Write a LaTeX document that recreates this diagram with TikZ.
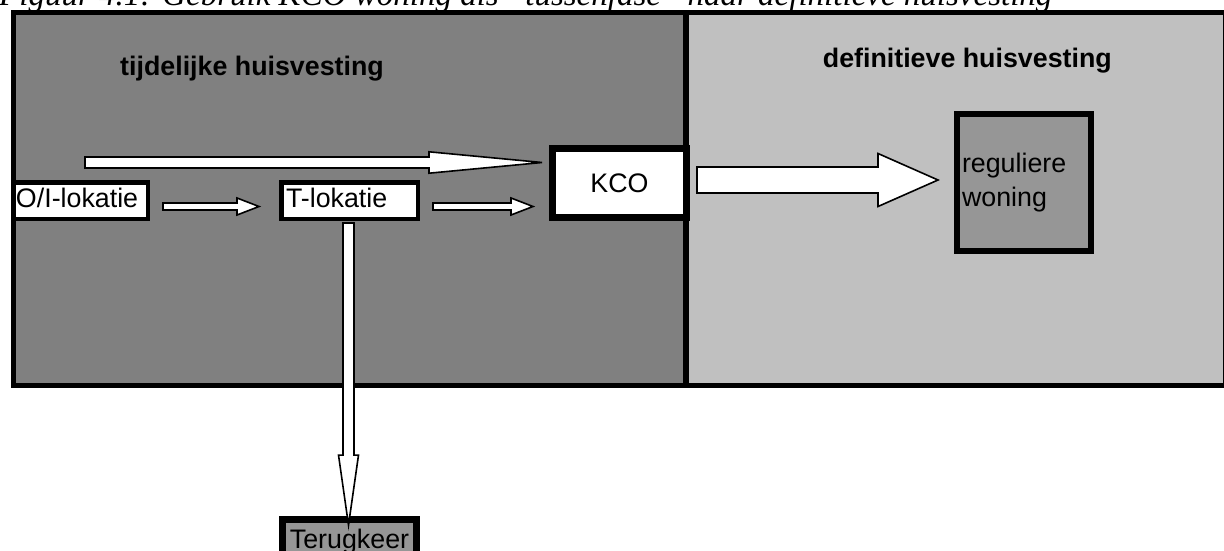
\documentclass[tikz,border=0pt]{standalone}
\usepackage{fontspec}
\setmainfont{Liberation Sans}
\newfontfamily\capfont{Liberation Serif}
\usetikzlibrary{calc}
\definecolor{darkgrey}{gray}{0.502}
\definecolor{lightgrey}{gray}{0.753}
\definecolor{boxgrey}{gray}{0.59}

\begin{document}
\begin{tikzpicture}[
    x=1pt, y=-1pt,
    lbl/.style={font=\fontsize{26.8}{33.5}\selectfont},
    ttl/.style={font=\bfseries\fontsize{26.8}{33.5}\selectfont, inner sep=0pt},
    region/.style={draw, line width=5.5pt},
    box/.style={draw, line width=4.5pt, fill=white, inner sep=0pt, lbl},
    fatarrow/.style n args={3}{draw, fill=white, line width=1.6pt,
        to path={let \p1=(\tikztostart), \p2=(\tikztotarget) in
            (\x1,\y1+#1) -- (\x2-#3,\y1+#1) -- (\x2-#3,\y1+#2) -- (\x2,\y1)
            -- (\x2-#3,\y1-#2) -- (\x2-#3,\y1-#1) -- (\x1,\y1-#1) -- cycle}},
    downarrow/.style n args={3}{draw, fill=white, line width=1.6pt,
        to path={let \p1=(\tikztostart), \p2=(\tikztotarget) in
            (\x1-#1,\y1) -- (\x1-#1,\y2+#3) -- (\x1-#2,\y2+#3) -- (\x1,\y2)
            -- (\x1+#2,\y2+#3) -- (\x1+#1,\y2+#3) -- (\x1+#1,\y1) -- cycle}}
]
    \useasboundingbox (0,0) rectangle (1224,551);

    % Caption (cut at the top)
    \node[font=\capfont\itshape\fontsize{33}{40}\selectfont, anchor=base west, inner sep=0pt] (caption) at (-1,6)
        {Figuur 4.1: Gebruik KCO woning als “tussenfase” naar definitieve huisvesting};

    % Two phases
    \draw[region, fill=darkgrey] (13.5,12.5) rectangle (686,385.5);
    \draw[region, fill=lightgrey] (686,12.5) rectangle (1226,385.5);
    \node[ttl, anchor=base] (tijdtitle) at (252,75) {tijdelijke huisvesting};
    \node[ttl, anchor=base east] (deftitle) at (1112,67) {definitieve huisvesting};

    % Locations
    \node[box, minimum width=134.5pt, minimum height=36.5pt, text width=129pt, align=left,
        text height=19.6pt, text depth=5.6pt] (oi) at (80.5,200.5) {O/I-lokatie};
    \node[box, minimum width=136.5pt, minimum height=36.5pt, text width=127pt, align=left,
        text height=19.6pt, text depth=5.6pt] (tlok) at (349.5,200.5) {T-lokatie};
    \node[box, line width=7pt, minimum width=134pt, minimum height=69pt] (kco) at (619.5,183) {KCO};
    \node[box, line width=6pt, fill=boxgrey, minimum width=134pt, minimum height=137pt,
        text width=124pt, align=left] (woning) at (1024,182.5) {reguliere\\woning};
    \node[box, line width=7pt, fill=boxgrey, minimum width=134pt, minimum height=43pt,
        anchor=base] (terug) at (349.5,548) {Terugkeer};

    % Arrows
    \coordinate (longstart) at (85,162.5);
    \draw[fatarrow={5.5pt}{10.7pt}{113pt}] (longstart) to ([xshift=-7pt]kco.west);
    \draw[fatarrow={3.5pt}{8.5pt}{22pt}] ([xshift=13pt,yshift=-6pt]oi.east) to ([xshift=-20pt]tlok.west);
    \draw[fatarrow={3.5pt}{8.5pt}{22pt}] ([xshift=13pt,yshift=-6pt]tlok.east) to ([xshift=-16pt]kco.west);
    \draw[fatarrow={13pt}{26.5pt}{60pt}] ([xshift=7pt,yshift=3pt]kco.east) to ([xshift=-16pt]woning.west);
    \draw[downarrow={5.5pt}{10pt}{70pt}] ([xshift=-1pt,yshift=-2pt]tlok.south) to ([xshift=-2pt,yshift=-9pt]terug.north);
\end{tikzpicture}
\end{document}
